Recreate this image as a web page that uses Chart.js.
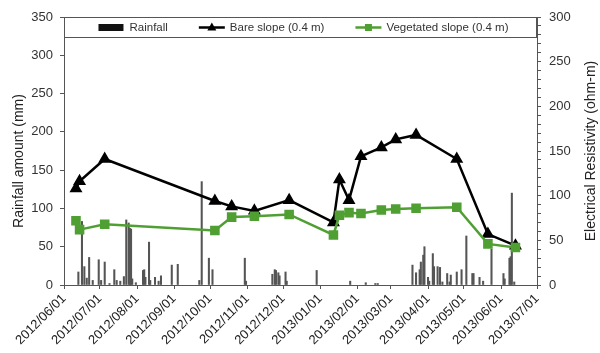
<!DOCTYPE html>
<html><head><meta charset="utf-8">
<script src="https://cdn.jsdelivr.net/npm/chart.js@4"></script>
<style>html,body{margin:0;padding:0;background:#fff}#wrap{width:600px;height:353px}</style>
</head><body><div id="wrap"><canvas id="c" width="600" height="353"></canvas></div>
<script>
// ---------- data ----------
const startDate = '2012-06-01';
const endDate = '2013-07-01';
const tickDates = ['2012-06-01','2012-07-01','2012-08-01','2012-09-01','2012-10-01','2012-11-01','2012-12-01',
  '2013-01-01','2013-02-01','2013-03-01','2013-04-01','2013-05-01','2013-06-01','2013-07-01'];
const tickLabels = ['2012/06/01','2012/07/01','2012/08/01','2012/09/01','2012/10/01','2012/11/01','2012/12/01',
  '2013/01/01','2013/02/01','2013/03/01','2013/04/01','2013/05/01','2013/06/01','2013/07/01'];

const rainDates = ['2012-06-13','2012-06-16','2012-06-18','2012-06-20','2012-06-22','2012-06-25','2012-06-30',
  '2012-07-02','2012-07-05','2012-07-09','2012-07-13','2012-07-15','2012-07-18','2012-07-21','2012-07-23',
  '2012-07-25','2012-07-26','2012-07-27','2012-07-28','2012-07-31','2012-08-06','2012-08-07','2012-08-08',
  '2012-08-11','2012-08-12','2012-08-16','2012-08-19','2012-08-21','2012-08-30','2012-09-04','2012-09-22',
  '2012-09-24','2012-09-30','2012-10-03','2012-10-30','2012-10-31','2012-11-22','2012-11-24','2012-11-25',
  '2012-11-27','2012-11-28','2012-12-03','2012-12-04','2012-12-29','2013-01-26','2013-02-08','2013-02-16',
  '2013-02-18','2013-03-19','2013-03-22','2013-03-25','2013-03-26','2013-03-28','2013-03-29','2013-04-01',
  '2013-04-02','2013-04-05','2013-04-06','2013-04-09','2013-04-11','2013-04-13','2013-04-17','2013-04-19',
  '2013-04-20','2013-04-25','2013-04-29','2013-05-03','2013-05-08','2013-05-09','2013-05-14','2013-05-17',
  '2013-05-24','2013-06-03','2013-06-04','2013-06-08','2013-06-09','2013-06-10','2013-06-12'];
const rainValues = [17,83,24,9,36,6,33,
  6,30,2,20,6,5,11,85,
  81,74,73,8,3,19,20,10,
  56,6,10,5,12,26,27,6,
  135,35,20,35,5,14,20,19,
  16,12,17,5,19,5,3,2,
  2,26,16,20,30,39,50,10,
  5,41,24,24,23,4,15,4,
  13,17,20,64,15,15,10,5,
  47,15,8,35,37,120,4];

const measureDates = ['2012-06-11','2012-06-14','2012-07-05','2012-10-05','2012-10-19','2012-11-07','2012-12-06',
  '2013-01-12','2013-01-17','2013-01-25','2013-02-04','2013-02-21','2013-03-05','2013-03-22','2013-04-25',
  '2013-05-21','2013-06-13'];
const bareValues = [108,116,141,94,88,83,95,70,118,95,144,154,163,168,141,57,44];
const vegValues  = [72,62,68,61,76,77,79,56,78,81,80,84,85,86,87,46,42];

const seriesNames = ['Rainfall','Bare slope (0.4 m)','Vegetated slope (0.4 m)'];
const leftTitle = 'Rainfall amount (mm)';
const rightTitle = 'Electrical Resistivity (ohm-m)';

// ---------- helpers ----------
function dayOf(s){const p=s.split('-').map(Number);const q=startDate.split('-').map(Number);
  return (Date.UTC(p[0],p[1]-1,p[2])-Date.UTC(q[0],q[1]-1,q[2]))/864e5;}
const GREEN = '#4f9f33';
const AXIS = '#555';
const FONT = "'Liberation Sans', Arial, sans-serif";

const decor = {
  id:'decor',
  afterDraw(chart){
    const ctx = chart.ctx, a = chart.chartArea;
    ctx.save();
    // legend box
    ctx.strokeStyle = AXIS; ctx.lineWidth = 1;
    ctx.strokeRect(a.left+0.5, a.top+0.5, a.right-a.left-1, 20);
    ctx.font = '11.5px ' + FONT;
    const sw = 26, gapT = 5, gapI = 31;
    const ds = chart.data.datasets;
    const widths = ds.map(d => sw + gapT + ctx.measureText(d.label).width);
    const total = widths.reduce((s,w)=>s+w,0) + gapI*(ds.length-1);
    let x = (a.left + a.right)/2 - total/2 + 3;
    const cy = a.top + 10.5;
    ds.forEach((d,i)=>{
      if (d.type === 'bar') {
        ctx.fillStyle = '#111';
        ctx.fillRect(x, cy-3.5, sw-1, 7);
      } else {
        ctx.strokeStyle = d.borderColor; ctx.lineWidth = 2.5;
        ctx.beginPath(); ctx.moveTo(x, cy); ctx.lineTo(x+sw, cy); ctx.stroke();
        ctx.fillStyle = d.borderColor;
        const mx = x + sw/2;
        ctx.beginPath();
        if (d.pointStyle === 'triangle') {
          ctx.moveTo(mx, cy-5); ctx.lineTo(mx+4.5, cy+3); ctx.lineTo(mx-4.5, cy+3); ctx.closePath();
        } else {
          ctx.rect(mx-3.5, cy-3.5, 7, 7);
        }
        ctx.fill();
      }
      ctx.fillStyle = '#333'; ctx.textBaseline = 'middle'; ctx.textAlign = 'left';
      ctx.fillText(d.label, x + sw + gapT, cy + 0.5);
      x += widths[i] + gapI;
    });
    // axis titles
    ctx.font = '14px ' + FONT; ctx.fillStyle = '#222'; ctx.textAlign = 'center'; ctx.textBaseline = 'middle';
    ctx.save(); ctx.translate(19, (a.top+a.bottom)/2 + 10); ctx.rotate(-Math.PI/2);
    ctx.fillText(leftTitle, 0, 0); ctx.restore();
    ctx.save(); ctx.translate(591, (a.top+a.bottom)/2); ctx.rotate(-Math.PI/2);
    ctx.fillText(rightTitle, 0, 0); ctx.restore();
    ctx.restore();
  }
};

new Chart(document.getElementById('c'), {
  type: 'bar',
  data: {
    datasets: [
      { type:'line', label: seriesNames[2], yAxisID:'y1', order:1,
        data: measureDates.map((d,i)=>({x:dayOf(d), y:vegValues[i]})),
        borderColor: GREEN, backgroundColor: GREEN, borderWidth: 2.5,
        pointStyle:'rect', pointRadius:5, pointBackgroundColor: GREEN, pointBorderColor: GREEN, tension:0 },
      { type:'line', label: seriesNames[1], yAxisID:'y1', order:2,
        data: measureDates.map((d,i)=>({x:dayOf(d), y:bareValues[i]})),
        borderColor: '#000', backgroundColor: '#000', borderWidth: 2.5,
        pointStyle:'triangle', pointRadius:5, pointBackgroundColor:'#000', pointBorderColor:'#000', tension:0 },
      { type:'bar', label: seriesNames[0], yAxisID:'y', order:3,
        data: rainDates.map((d,i)=>({x:dayOf(d), y:rainValues[i]})),
        backgroundColor:'#555', borderWidth:0, barThickness:1.4 }
    ].reverse()
  },
  options: {
    responsive:false, animation:false, devicePixelRatio:1,
    layout:{padding:{left:0,right:0,top:17,bottom:0}},
    plugins:{ legend:{display:false}, tooltip:{enabled:false} },
    scales:{
      x:{ type:'linear', min:0, max:dayOf(endDate), offset:false, bounds:'data',
        afterBuildTicks: s => { s.ticks = tickDates.map(d=>({value:dayOf(d)})); },
        afterFit: s => { s.height = 68; },
        grid:{ display:true, drawOnChartArea:false, drawTicks:true, tickLength:4, color:AXIS, offset:false },
        border:{ color:AXIS, width:1 },
        ticks:{ autoSkip:false, maxRotation:45, minRotation:45, padding:2, color:'#222',
          font:{ size:13, family:FONT }, callback:(v,i)=>tickLabels[i] } },
      y:{ position:'left', min:0, max:350,
        afterFit: s => { s.width = 64; },
        grid:{ drawOnChartArea:false, drawTicks:true, tickLength:4, color:AXIS },
        border:{ color:AXIS, width:1 },
        ticks:{ stepSize:50, padding:7, color:'#333', font:{ size:13, family:FONT } } },
      y1:{ position:'right', min:0, max:300,
        afterFit: s => { s.width = 63; },
        grid:{ drawOnChartArea:false, drawTicks:true, tickLength:4, color:AXIS },
        border:{ color:AXIS, width:1 },
        ticks:{ stepSize:10, autoSkip:false, padding:8, color:'#333', font:{ size:13, family:FONT },
          callback: v => (v % 50 === 0 ? v : '') } }
    }
  },
  plugins:[decor]
});
</script></body></html>
